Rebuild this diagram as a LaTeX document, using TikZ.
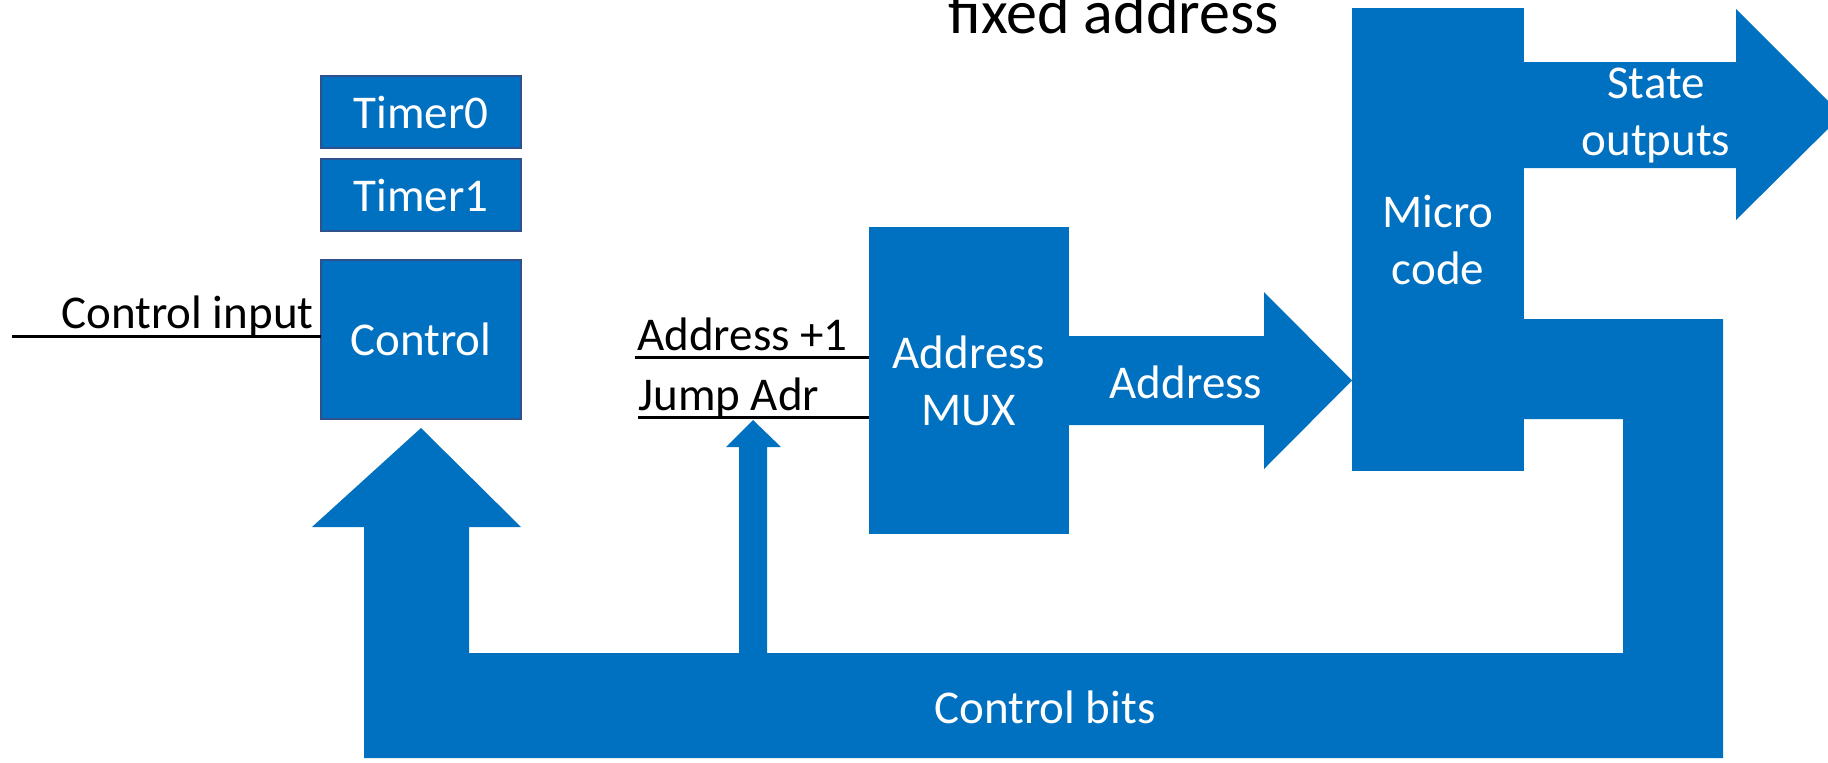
\documentclass[tikz,border=0pt]{standalone}
\usepackage{fontspec}
\setmainfont{Carlito}
\usetikzlibrary{positioning}
\definecolor{busblue}{HTML}{0070C0}
\definecolor{edgeblue}{HTML}{2F528F}
\newcommand{\lbltext}{\fontsize{23.5}{28.5}\selectfont}
\tikzset{
  block/.style={fill=busblue, text=white, align=center, inner sep=0pt, outer sep=0pt},
  boxed/.style={block, draw=edgeblue, line width=1pt, minimum width=100pt},
  bus/.style={fill=busblue},
  buslbl/.style={text=white, align=center, inner sep=0pt},
  wire/.style={line width=1.5pt},
  lbl/.style={anchor=base west, inner sep=0pt},
}

\begin{document}
\begin{tikzpicture}[x=0.5pt, y=-0.5pt, font=\lbltext]
                \useasboundingbox (0,0) rectangle (1828,762);
                \clip (0,0) rectangle (1828,762);

                %Nodes
                \node[boxed, minimum height=36pt] at (421,112) (timer0) {Timer0};
                \node[boxed, minimum height=36pt, below=5.5pt of timer0] (timer1) {Timer1};
                \node[boxed, minimum height=79.5pt, below=14.5pt of timer1] (ctrl) {Control};
                \node[block, minimum width=100pt, minimum height=153.5pt] at (969,380.5) (mux) {Address\\MUX};
                \node[block, minimum width=86pt, minimum height=231.5pt] at (1438,239.5) (mcode) {Micro\\code};

                %Buses
                \fill[bus] (1520,62) -- (1736,62) -- (1736,9) -- (1842,115) -- (1736,220)
                    -- (1736,168) -- (1520,168) -- cycle;
                \fill[bus] (1065,336) -- (1264,336) -- (1264,292) -- (mcode.west |- mux.east)
                    -- (1264,469) -- (1264,425) -- (1065,425) -- cycle;
                \fill[bus] (1520,319) -- (1723,319) -- (1723,758) -- (364,758) -- (364,527)
                    -- (312,527) -- (ctrl.south |- 0,428) -- (521,527) -- (469,527) -- (469,653)
                    -- (739,653) -- (739,447) -- (726,447) -- (753,420) -- (781,447)
                    -- (767,447) -- (767,653) -- (1623,653) -- (1623,419) -- (1520,419) -- cycle;

                %Labels
                \node[buslbl] at (1656,116) (state) {State\\outputs};
                \node[buslbl] at (1186,382) (adr) {Address};
                \node[buslbl] at (1045,707) (cbits) {Control bits};
                \node[lbl] at (61,328) (cin) {Control input};
                \node[lbl] at (637,350) (adrinc) {Address +1};
                \node[lbl] at (638,410) (jmp) {Jump Adr};
                \node[lbl, font=\fontsize{31}{36}\selectfont] at (948,33) (fixed) {fixed address};

                %Lines
                \coordinate (cinend) at (12,336);
                \coordinate (incend) at (635,357);
                \coordinate (jmpend) at (638,417);
                \draw[wire] (cinend) -- (cinend -| ctrl.west);
                \draw[wire] (incend) -- (incend -| mux.west);
                \draw[wire] (jmpend) -- (jmpend -| mux.west);
\end{tikzpicture}
\end{document}
